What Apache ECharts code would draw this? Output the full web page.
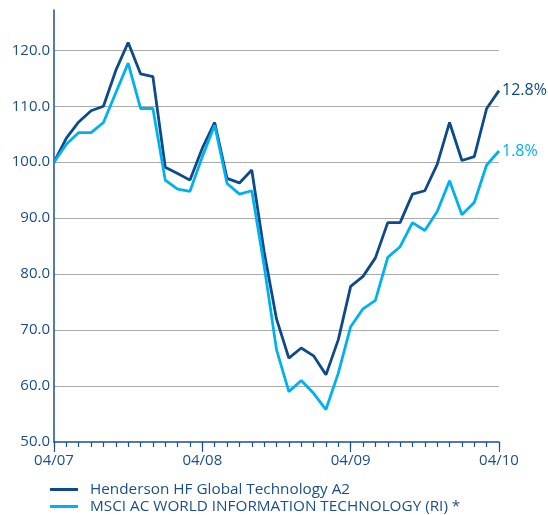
<!DOCTYPE html>
<html>
<head>
<meta charset="utf-8">
<script src="https://cdn.jsdelivr.net/npm/echarts@6/dist/echarts.min.js"></script>
<style>
  html, body { margin: 0; padding: 0; background: #fff; }
  #main { width: 548px; height: 515px; }
</style>
</head>
<body>
<div id="main"></div>
<script>
// monthly points, 04/07 .. 04/10
const months = [
  '04/07', '05/07', '06/07', '07/07', '08/07', '09/07', '10/07', '11/07', '12/07', '01/08', '02/08', '03/08',
  '04/08', '05/08', '06/08', '07/08', '08/08', '09/08', '10/08', '11/08', '12/08', '01/09', '02/09', '03/09',
  '04/09', '05/09', '06/09', '07/09', '08/09', '09/09', '10/09', '11/09', '12/09', '01/10', '02/10', '03/10',
  '04/10'
];
const seriesNames = ['Henderson HF Global Technology A2', 'MSCI AC WORLD INFORMATION TECHNOLOGY (RI) *'];
const henderson = [
  100, 104.3, 107.2, 109.2, 110.0, 116.4, 121.4, 115.8, 115.3, 99.1, 98.0, 96.8,
  102.5, 107.1, 97.1, 96.3, 98.6, 84.0, 72.0, 65.0, 66.8, 65.4, 62.0, 68.3,
  77.8, 79.6, 82.9, 89.2, 89.2, 94.3, 94.9, 99.6, 107.1, 100.3, 101.0, 109.6,
  112.8
];
const msci = [
  100, 103.2, 105.3, 105.3, 107.1, 112.4, 117.7, 109.6, 109.6, 96.8, 95.2, 94.8,
  101.0, 106.6, 96.2, 94.3, 94.9, 81.5, 66.5, 59.0, 61.0, 58.7, 55.8, 62.3,
  70.6, 73.8, 75.3, 83.0, 84.9, 89.2, 87.8, 91.2, 96.7, 90.6, 92.8, 99.5,
  102.0
];
const endLabels = ['12.8%', '1.8%'];

const darkBlue = '#0d4a8a';
const lightBlue = '#00b1f0';
const textBlue = '#1b4f8c';
const font = 'Open Sans';

var myChart = echarts.init(document.getElementById('main'));

// one legend per row, stacked under the chart
const legendRow = (name, top) => ({
  left: 50,
  top: top,
  itemWidth: 28,
  itemHeight: 3,
  icon: 'rect',
  padding: 0,
  textStyle: { color: textBlue, fontSize: 15.3, fontFamily: font, padding: [0, 0, 0, 7] },
  data: [name]
});

let option = {
  animation: false,
  textStyle: { fontFamily: font },
  grid: {
    left: 54,
    right: 49,
    top: 10,
    bottom: 73,
    outerBoundsMode: 'none'
  },
  legend: [
    legendRow(seriesNames[0], 482),
    legendRow(seriesNames[1], 499)
  ],
  xAxis: [
    {
      type: 'category',
      data: months,
      boundaryGap: false,
      axisLine: { lineStyle: { color: textBlue, width: 1.5 } },
      axisTick: { interval: 0, length: 5, lineStyle: { color: textBlue, width: 1.2 } },
      axisLabel: {
        interval: 11,
        color: textBlue,
        fontSize: 15,
        margin: 11,
        formatter: (v, i) => (i % 12 === 0 ? v : '')
      },
      splitLine: { show: false }
    },
    {
      type: 'category',
      data: months,
      boundaryGap: false,
      position: 'bottom',
      axisLine: { show: false },
      axisTick: { interval: 11, length: 10, lineStyle: { color: textBlue, width: 1.2 } },
      axisLabel: { show: false },
      splitLine: { show: false }
    }
  ],
  yAxis: {
    type: 'value',
    min: 50,
    max: 127.2,
    interval: 10,
    axisLine: { show: true, lineStyle: { color: textBlue, width: 1.5 } },
    axisTick: { show: false },
    axisLabel: {
      color: textBlue,
      fontSize: 15,
      margin: 4,
      showMaxLabel: false,
      formatter: v => v.toFixed(1)
    },
    splitLine: {
      show: true,
      showMinLine: false,
      showMaxLine: false,
      lineStyle: { color: '#ababab', width: 1.2 }
    }
  },
  series: [
    {
      name: seriesNames[0],
      type: 'line',
      data: henderson,
      symbol: 'none',
      color: darkBlue,
      lineStyle: { width: 2.8, color: darkBlue },
      endLabel: {
        show: true,
        formatter: endLabels[0],
        color: darkBlue,
        fontSize: 16,
        distance: 3
      }
    },
    {
      name: seriesNames[1],
      type: 'line',
      data: msci,
      symbol: 'none',
      color: lightBlue,
      lineStyle: { width: 2.8, color: lightBlue },
      endLabel: {
        show: true,
        formatter: endLabels[1],
        color: lightBlue,
        fontSize: 16,
        distance: 3
      }
    }
  ]
};
myChart.setOption(option);
</script>
</body>
</html>
